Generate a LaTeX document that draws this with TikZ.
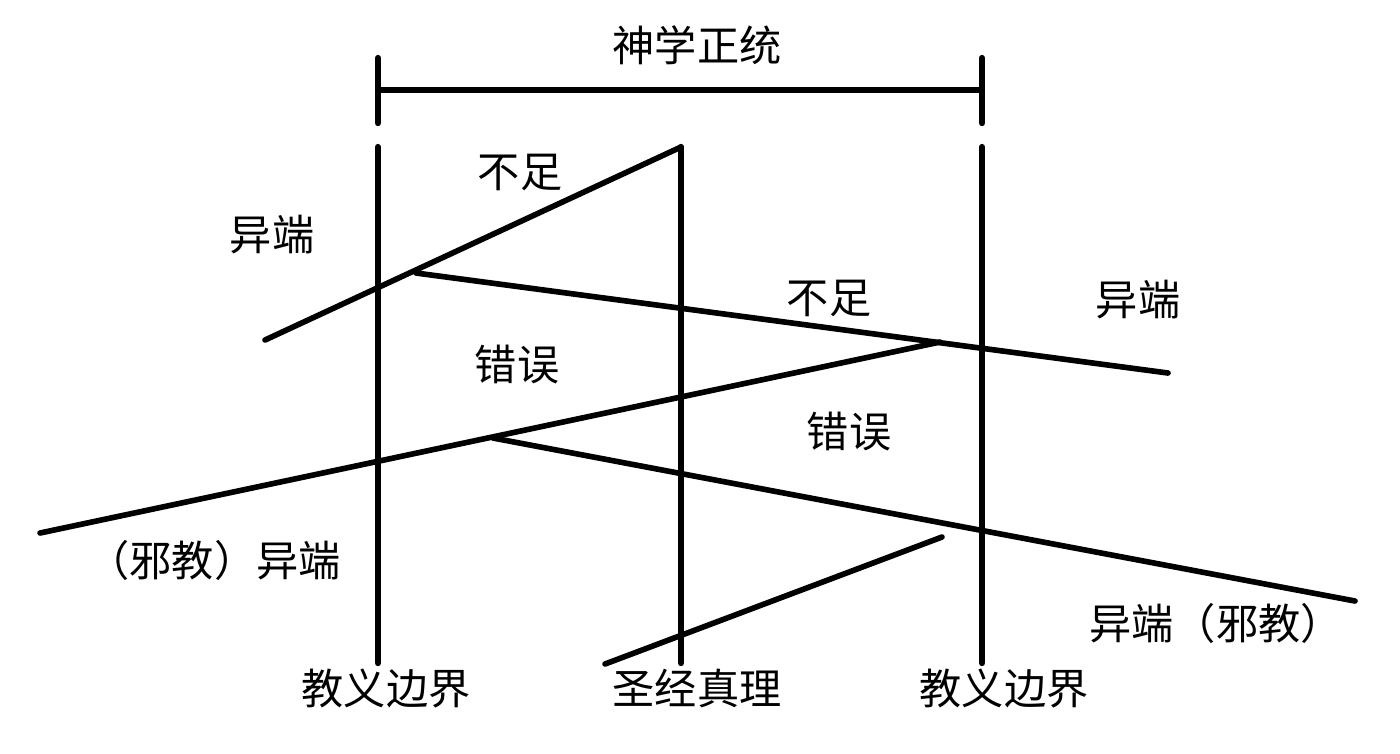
\documentclass[tikz,border=0pt]{standalone}
\usepackage{fontspec}
\setmainfont{Noto Sans CJK SC}
\begin{document}
\begin{tikzpicture}[x=0.01cm,y=-0.01cm,
  ln/.style={line width=1.6pt,line cap=round,line join=round},
  vln/.style={ln,line width=1.8pt},
  lbl/.style={inner sep=0pt,font=\fontsize{12pt}{14pt}\selectfont}]
\useasboundingbox[fill=white] (0,0) rectangle (1400,753);
% coordinates
\coordinate (tLt) at (378,58); \coordinate (tLb) at (378,123);
\coordinate (tRt) at (982,58); \coordinate (tRb) at (982,123);
\coordinate (bL) at (378,90); \coordinate (bR) at (982,90);
\coordinate (vLt) at (378,147); \coordinate (vLb) at (378,663);
\coordinate (vMt) at (681,147); \coordinate (vMb) at (681,663);
\coordinate (vRt) at (982,147); \coordinate (vRb) at (982,663);
\coordinate (a0) at (265,340);
\coordinate (b0) at (416,273); \coordinate (b1) at (1168,373);
\coordinate (c0) at (40,533); \coordinate (c1) at (940,342);
\coordinate (d0) at (493,438); \coordinate (d1) at (1355,601);
\coordinate (e0) at (605,664); \coordinate (e1) at (942,537);
% bracket
\draw[vln] (tLt) -- (tLb);
\draw[vln] (tRt) -- (tRb);
\draw[ln] (bL) -- (bR);
% verticals
\draw[vln] (vLt) -- (vLb);
\draw[vln] (vRt) -- (vRb);
\draw[ln] (a0) -- (vMt);
\draw[vln] (vMt) -- (vMb);
% slanted lines
\draw[ln] (b0) -- (b1);
\draw[ln] (c0) -- (c1);
\draw[ln] (d0) -- (d1);
\draw[ln] (e0) -- (e1);
% labels
\node[lbl] (title) at (697,45) {神学正统};
\node[lbl] (bz1) at (520,172) {不足};
\node[lbl] (yd1) at (272,235) {异端};
\node[lbl] (bz2) at (829,298) {不足};
\node[lbl] (yd2) at (1138,300) {异端};
\node[lbl] (cw1) at (517,365) {错误};
\node[lbl] (cw2) at (849,432) {错误};
\node[lbl] (xj1) at (214,560) {（邪教）异端};
\node[lbl] (xj2) at (1216,623) {异端（邪教）};
\node[lbl] (jy1) at (386,688) {教义边界};
\node[lbl] (sj) at (697,688) {圣经真理};
\node[lbl] (jy2) at (1004,688) {教义边界};
\end{tikzpicture}
\end{document}
